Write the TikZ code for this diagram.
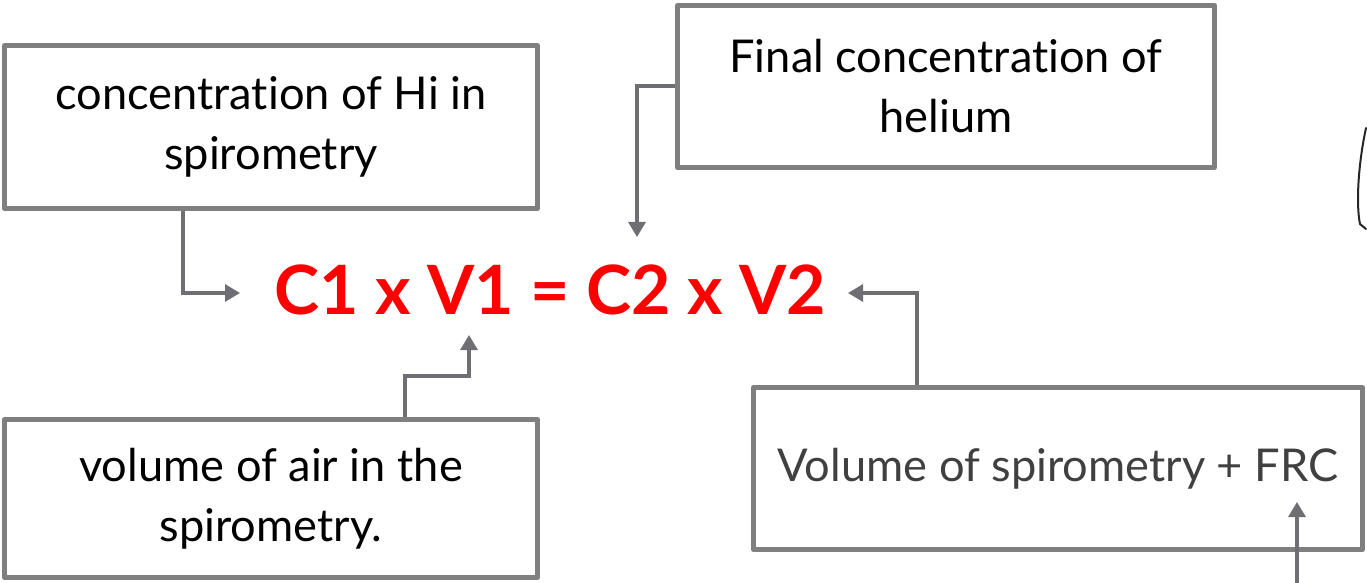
\documentclass[tikz,border=0pt]{standalone}
\usepackage{fontspec}
\setmainfont[Ligatures=NoCommon]{Lato}
\usetikzlibrary{arrows.meta}
\definecolor{boxgray}{HTML}{7F7F7F}
\definecolor{linkgray}{HTML}{6E6E73}
\definecolor{textgray}{HTML}{404040}
\definecolor{eqred}{HTML}{FF0000}
\tikzset{
  box/.style={draw=boxgray, line width=2.5pt, line join=round, fill=white,
    align=center, font=\fontsize{22.6}{30}\selectfont, inner sep=0pt},
  conn/.style={draw=linkgray, line width=1.6pt,
    -{Triangle[length=7.5pt,width=8.5pt]}},
  eqn/.style={text=eqred, font=\fontsize{34}{34}\selectfont\bfseries, inner sep=0pt}
}
\begin{document}
\begin{tikzpicture}[x=0.5pt,y=-0.5pt]
\useasboundingbox (0,0) rectangle (1367,583);

% boxes
\node[box, minimum width=266.5pt, minimum height=81.5pt] (A) at (271,127)
  {concentration of Hi in\\spirometry};
\node[box, minimum width=268.5pt, minimum height=81pt] (B) at (946,86.5)
  {Final concentration of\\helium};
\node[box, minimum width=266.5pt, minimum height=79pt] (C) at (271,498.5)
  {volume of air in the\\spirometry.};
\node[box, minimum width=304.5pt, minimum height=81pt, text=textgray] (D) at (1058,468.5)
  {Volume of spirometry + FRC};

% equation
\node[eqn] (eq) at (550,290) {C1 x V1 = C2 x V2};

% arrow tips and free ends
\coordinate (tA) at (240,293);
\coordinate (tB) at (637,237);
\coordinate (tC) at (469,335);
\coordinate (tD) at (848,293);
\coordinate (tE) at (1297,502);
\coordinate (eE) at (1297,583);

% connectors
\draw[conn] (183,0 |- A.south) |- (tA);
\draw[conn] (B.west |- 0,86) -| (tB);
\draw[conn] (405,0 |- C.north) -- (405,376) -| (tC);
\draw[conn] (917,0 |- D.north) |- (tD);
\draw[conn] (eE) -- (tE);

% partial outline at the right edge
\draw[line width=1pt, black!85, line cap=round]
  (1366,128) .. controls (1358,165) and (1356,205) .. (1360,224) -- (1366,229);
\end{tikzpicture}
\end{document}
